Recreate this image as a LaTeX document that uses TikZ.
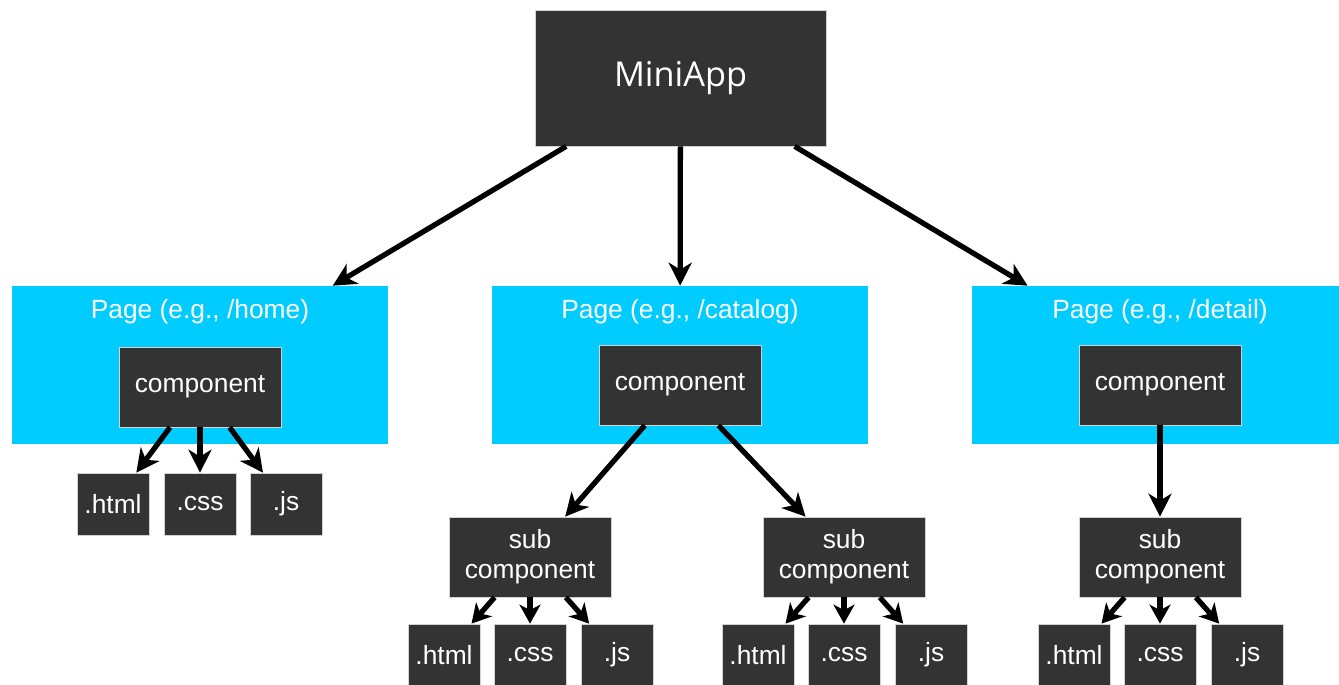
\documentclass[tikz,border=0pt]{standalone}
\usepackage{fontspec}
\setmainfont{Liberation Sans}
\newfontfamily\appfont{Open Sans}
\usetikzlibrary{arrows.meta}
\definecolor{pagecyan}{HTML}{00CCFF}
\definecolor{boxdark}{HTML}{333333}
\tikzset{
  dark/.style={fill=boxdark, draw=gray!35, line width=0.4pt, text=white, inner sep=0pt, align=center,
    font=\fontsize{15}{17}\selectfont},
  page/.style={fill=pagecyan, minimum width=7.52cm, minimum height=3.16cm, inner sep=0pt},
  comp/.style={dark, minimum width=3.24cm, minimum height=1.6cm},
  leaf/.style={dark, minimum width=1.44cm, minimum height=1.24cm},
  arr/.style={-{Stealth[length=4.6mm,width=4.6mm,inset=1.4mm]}, line width=3pt},
  arrs/.style={-{Stealth[length=3.8mm,width=4.2mm,inset=1.1mm]}, line width=3pt}
}
\begin{document}
\begin{tikzpicture}[x=0.02cm, y=-0.02cm]
\useasboundingbox (0,0) rectangle (1339,684);

\node[dark, minimum width=5.82cm, minimum height=2.72cm, font=\appfont\fontsize{19.5}{22}\selectfont] (app) at (680.5,78) {MiniApp};

% pages
\node[page] (home) at (200,365) {};
\node[page] (catalog) at (680,365) {};
\node[page] (detail) at (1160,365) {};
\node[text=white, font=\fontsize{15}{17}\selectfont] at (200,312) {Page (e.g., /home)};
\node[text=white, font=\fontsize{15}{17}\selectfont] at (680,312) {Page (e.g., /catalog)};
\node[text=white, font=\fontsize{15}{17}\selectfont] at (1160,312) {Page (e.g., /detail)};

\node[comp] (hcomp) at (200,387) {component};
\node[comp] (ccomp) at (680,385) {component};
\node[comp] (dcomp) at (1160,385) {component};

\node[comp] (csub1) at (530,557) {sub\\component};
\node[comp] (csub2) at (844,557) {sub\\component};
\node[comp] (dsub) at (1160,557) {sub\\component};

% files
\node[leaf] (hhtml) at (113,504) {.html};
\node[leaf] (hcss) at (200,504) {.css};
\node[leaf] (hjs) at (286,504) {.js};
\foreach \s/\x in {csub1/530, csub2/844, dsub/1160}{
  \node[leaf] (\s html) at (\x-86,655) {.html};
  \node[leaf] (\s css) at (\x,655) {.css};
  \node[leaf] (\s js) at (\x+87,655) {.js};
  \foreach \f in {html,css,js}
    \draw[arrs] (\s) -- (\s\f);
}

\draw[arr] (app) -- (home);
\draw[arr] (app) -- (catalog);
\draw[arr] (app) -- (detail);
\foreach \f in {hhtml,hcss,hjs}
  \draw[arr] (hcomp) -- (\f);
\draw[arr] (ccomp) -- (csub1);
\draw[arr] (ccomp) -- (csub2);
\draw[arr] (dcomp) -- (dsub);
\end{tikzpicture}
\end{document}
